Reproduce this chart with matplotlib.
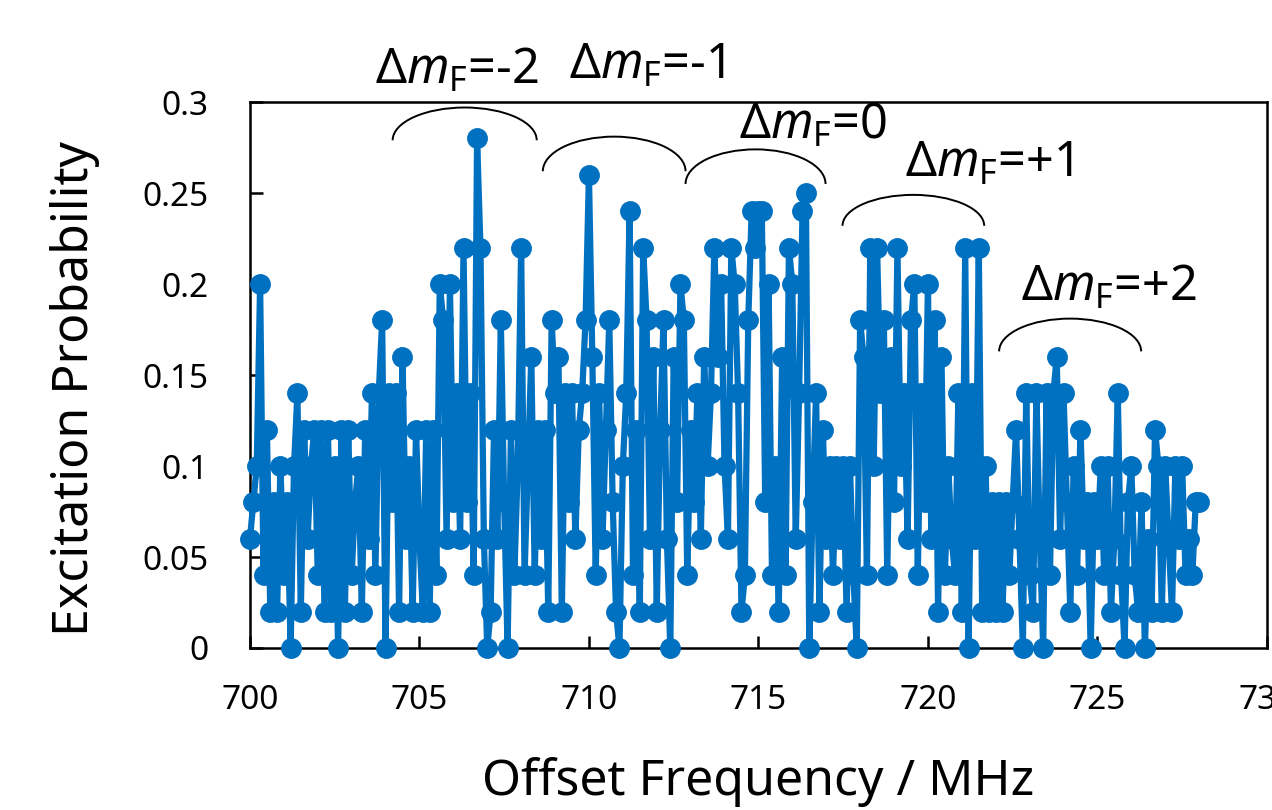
import numpy as np
import matplotlib
matplotlib.use('Agg')
import matplotlib.pyplot as plt
from matplotlib.patches import Arc

plt.rcParams['font.family'] = ['Noto Sans', 'DejaVu Sans']
plt.rcParams['mathtext.fontset'] = 'custom'
plt.rcParams['mathtext.rm'] = 'Noto Sans'
plt.rcParams['mathtext.it'] = 'Noto Sans:italic'

# scan: 700.0 .. 728.0 MHz in 0.1 MHz steps, one row per MHz
freq_start = 700.0
freq_step = 0.1
prob = [
    0.06, 0.08, 0.10, 0.20, 0.04, 0.12, 0.02, 0.08, 0.02, 0.10,  # 700
    0.04, 0.08, 0.00, 0.10, 0.14, 0.02, 0.12, 0.06, 0.10, 0.12,  # 701
    0.04, 0.12, 0.02, 0.12, 0.02, 0.10, 0.00, 0.12, 0.02, 0.12,  # 702
    0.04, 0.08, 0.10, 0.02, 0.12, 0.06, 0.14, 0.04, 0.14, 0.18,  # 703
    0.00, 0.14, 0.08, 0.14, 0.02, 0.16, 0.06, 0.10, 0.02, 0.12,  # 704
    0.06, 0.02, 0.12, 0.02, 0.12, 0.04, 0.20, 0.18, 0.06, 0.20,  # 705
    0.08, 0.14, 0.06, 0.22, 0.08, 0.14, 0.04, 0.28, 0.22, 0.06,  # 706
    0.00, 0.02, 0.12, 0.06, 0.18, 0.08, 0.00, 0.12, 0.04, 0.10,  # 707
    0.22, 0.04, 0.10, 0.16, 0.04, 0.12, 0.06, 0.12, 0.02, 0.18,  # 708
    0.14, 0.16, 0.02, 0.14, 0.08, 0.14, 0.06, 0.12, 0.14, 0.18,  # 709
    0.26, 0.16, 0.04, 0.14, 0.06, 0.12, 0.18, 0.08, 0.02, 0.00,  # 710
    0.10, 0.14, 0.24, 0.04, 0.12, 0.02, 0.22, 0.18, 0.06, 0.16,  # 711
    0.02, 0.12, 0.18, 0.06, 0.00, 0.16, 0.08, 0.20, 0.18, 0.04,  # 712
    0.12, 0.08, 0.14, 0.06, 0.16, 0.10, 0.14, 0.22, 0.16, 0.20,  # 713
    0.10, 0.06, 0.22, 0.20, 0.14, 0.02, 0.04, 0.18, 0.24, 0.22,  # 714
    0.24, 0.24, 0.08, 0.20, 0.04, 0.10, 0.02, 0.16, 0.04, 0.22,  # 715
    0.20, 0.06, 0.14, 0.24, 0.25, 0.00, 0.08, 0.14, 0.02, 0.12,  # 716
    0.06, 0.10, 0.04, 0.10, 0.06, 0.10, 0.02, 0.10, 0.04, 0.00,  # 717
    0.18, 0.16, 0.04, 0.22, 0.10, 0.22, 0.14, 0.18, 0.04, 0.16,  # 718
    0.08, 0.22, 0.10, 0.14, 0.06, 0.18, 0.20, 0.04, 0.14, 0.08,  # 719
    0.20, 0.06, 0.18, 0.02, 0.16, 0.04, 0.10, 0.06, 0.04, 0.14,  # 720
    0.02, 0.22, 0.00, 0.14, 0.06, 0.22, 0.02, 0.10, 0.02, 0.08,  # 721
    0.02, 0.08, 0.02, 0.08, 0.04, 0.08, 0.12, 0.06, 0.00, 0.14,  # 722
    0.04, 0.02, 0.14, 0.06, 0.00, 0.14, 0.04, 0.14, 0.16, 0.06,  # 723
    0.14, 0.08, 0.02, 0.10, 0.04, 0.12, 0.06, 0.08, 0.00, 0.08,  # 724
    0.06, 0.10, 0.04, 0.10, 0.02, 0.06, 0.14, 0.04, 0.00, 0.08,  # 725
    0.10, 0.04, 0.02, 0.08, 0.00, 0.06, 0.02, 0.12, 0.10, 0.02,  # 726
    0.10, 0.06, 0.02, 0.10, 0.06, 0.10, 0.04, 0.06, 0.04, 0.08,  # 727
    0.08,                                                        # 728
]
freq = freq_start + freq_step * np.arange(len(prob))

# transition labels: text, text position, arc (left, right, end y, top y)
labels = ['=-2', '=-1', '=0', '=+1', '=+2']
label_x = [706.1, 711.7, 716.6, 721.8, 725.35]
label_y = [0.317, 0.320, 0.287, 0.266, 0.198]
arc_left = [704.21, 708.64, 712.85, 717.48, 722.1]
arc_right = [708.46, 712.85, 716.98, 721.66, 726.29]
arc_end = [0.279, 0.262, 0.255, 0.232, 0.163]
arc_top = [0.297, 0.281, 0.274, 0.249, 0.181]

blue = '#0070C0'

fig = plt.figure(figsize=(12.72, 8.10), dpi=100)
ax = fig.add_axes([0.1965, 0.2, 0.7995, 0.674])

ax.plot(freq, prob, '-o', color=blue, lw=4.5, ms=14, clip_on=False, zorder=3)

ax.set_xlim(700, 730)
ax.set_ylim(0, 0.3)
ax.set_xticks(np.arange(700, 731, 5))
ax.set_yticks([0, 0.05, 0.1, 0.15, 0.2, 0.25, 0.3])
ax.set_yticklabels(['0', '0.05', '0.1', '0.15', '0.2', '0.25', '0.3'])
ax.tick_params(direction='in', length=9, width=1.8, labelsize=24)
ax.tick_params(axis='y', pad=30)
ax.tick_params(axis='x', pad=26)
for sp in ax.spines.values():
    sp.set_linewidth(1.8)

ax.set_xlabel('Offset Frequency / MHz', fontsize=36)
ax.set_ylabel('Excitation Probability', fontsize=36)
ax.xaxis.set_label_coords(0.5, -0.2)
ax.yaxis.set_label_coords(-0.147, 0.475)

for i, lab in enumerate(labels):
    ax.text(label_x[i], label_y[i], r'$\Delta\mathit{m}_{\mathrm{F}}$' + lab,
            fontsize=35, ha='center', va='center', clip_on=False)
    w = arc_right[i] - arc_left[i]
    h = 2 * (arc_top[i] - arc_end[i])
    ax.add_patch(Arc(((arc_left[i] + arc_right[i]) / 2, arc_end[i]), w, h,
                     theta1=0, theta2=180, color='black', lw=1.4,
                     clip_on=False, zorder=4))

fig.savefig('out.png', dpi=100)
